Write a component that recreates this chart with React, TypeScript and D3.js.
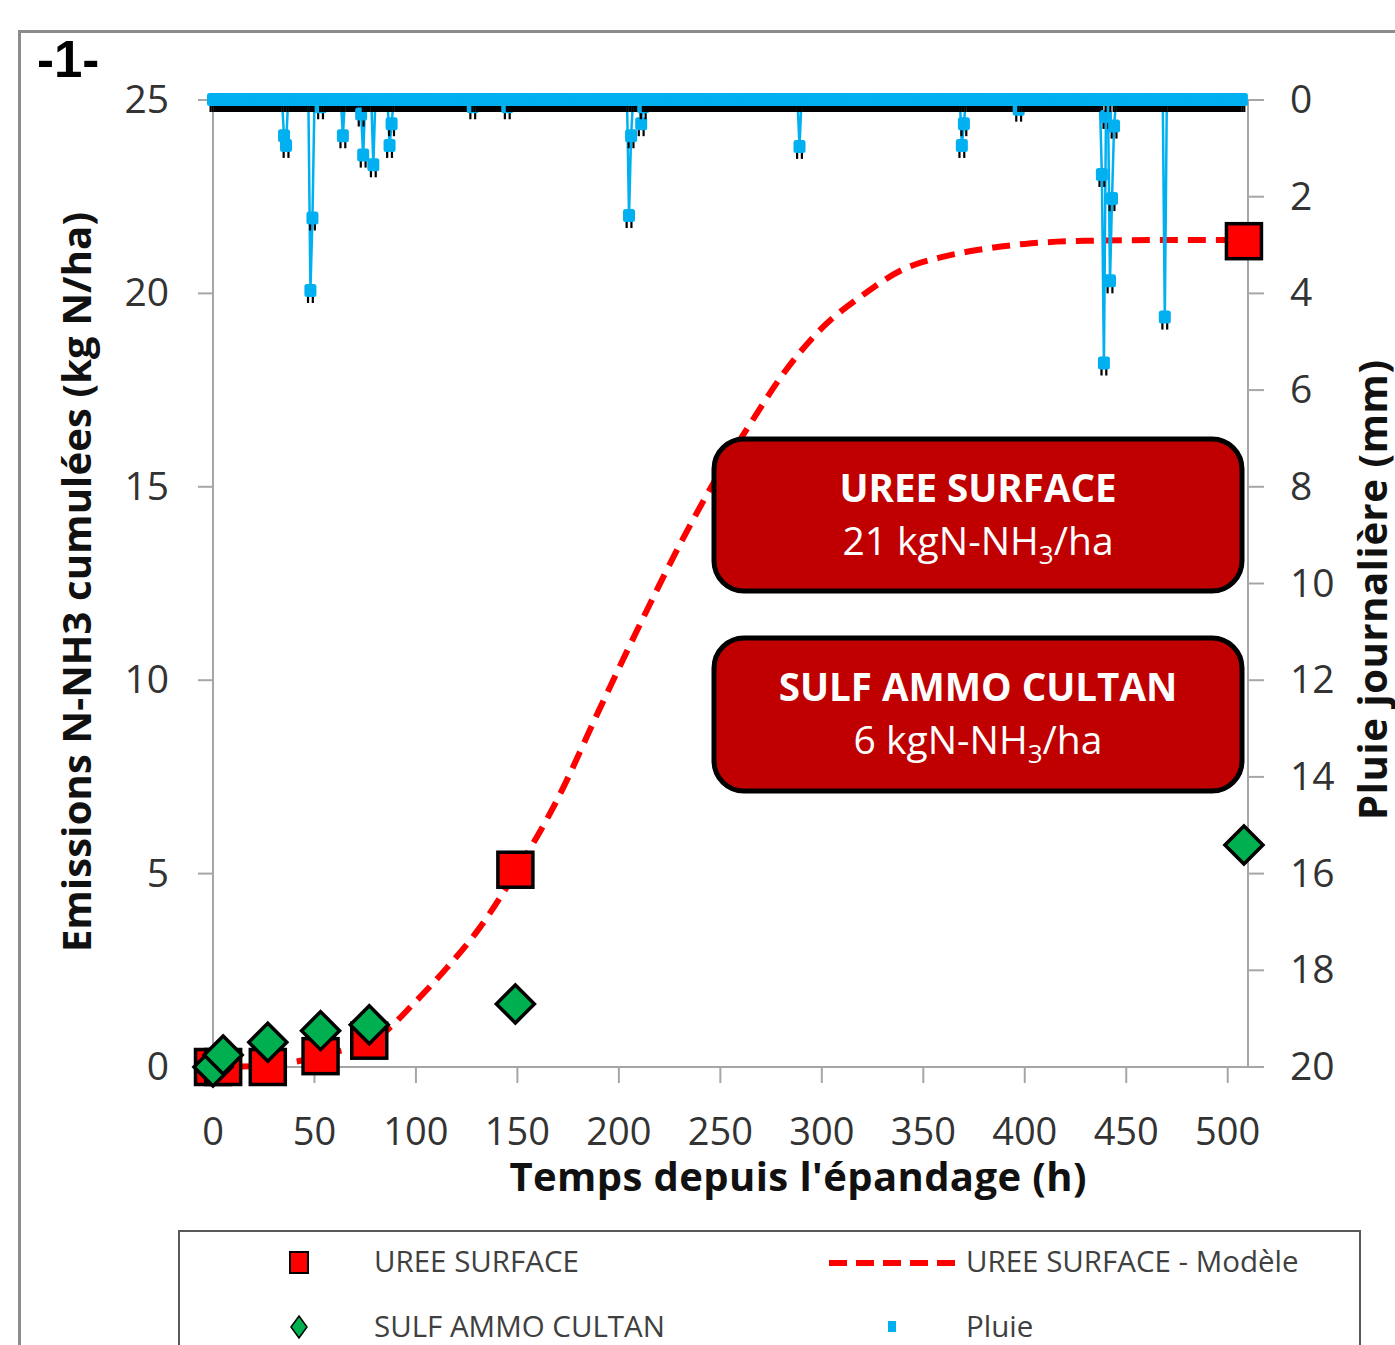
import React from "react";
import * as d3 from "d3";

// ---------- data ----------
const xTicks = [0, 50, 100, 150, 200, 250, 300, 350, 400, 450, 500];
const leftTicks = [0, 5, 10, 15, 20, 25];
const rightTicks = [0, 2, 4, 6, 8, 10, 12, 14, 16, 18, 20];

const ureeHours = [0, 5, 27, 53, 77, 149, 508];
const ureeValues = [0, 0, 0, 0.28, 0.68, 5.1, 21.35];

const sulfHours = [0, 5, 27, 53, 77, 149, 508];
const sulfValues = [0, 0.31, 0.64, 0.94, 1.09, 1.63, 5.74];

const modelHours = [0, 20, 40, 60, 80, 100, 115, 130, 150, 170, 190, 210, 230, 250, 265, 280, 300, 320, 340, 360, 380, 400, 430, 470, 508];
const modelValues = [0, 0.02, 0.13, 0.38, 0.72, 1.7, 2.55, 3.5, 5.1, 6.95, 9.2, 11.4, 13.5, 15.4, 16.65, 17.85, 19.1, 19.95, 20.62, 20.95, 21.15, 21.28, 21.36, 21.38, 21.38];

// hourly rain (mm); hours not listed had 0 mm
const rainLastHour = 507;
const rainEventHours = [35, 36, 48, 49, 53, 64, 73, 74, 79, 87, 88, 128, 145, 205, 206, 211, 212, 289, 369, 370, 397, 438, 439, 440, 442, 443, 444, 469];
const rainEventMm = [0.75, 0.95, 3.95, 2.45, 0.15, 0.75, 0.3, 1.15, 1.35, 0.95, 0.5, 0.15, 0.15, 2.4, 0.75, 0.5, 0.15, 0.97, 0.95, 0.5, 0.2, 1.55, 5.45, 0.35, 3.75, 2.05, 0.55, 4.5];

const legendItems = ["UREE SURFACE", "SULF AMMO CULTAN", "UREE SURFACE - Modèle", "Pluie"];

// ---------- layout ----------
const W = 1395;
const H = 1345;
const left = 213, right = 1248, top = 100, bottom = 1067;

const x = d3.scaleLinear().domain([0, 510]).range([left, right]);
const yL = d3.scaleLinear().domain([0, 25]).range([bottom, top]);
const yR = d3.scaleLinear().domain([0, 20]).range([top, bottom]);

const FONT = "'Open Sans', 'Noto Sans', sans-serif";
const BLUE = "#00B0F0";
const AXIS = "#A6A6A6";
const TXT = "#333333";

export default function App() {
  const rainMap = new Map<number, number>();
  rainEventHours.forEach((h, i) => rainMap.set(h, rainEventMm[i]));
  const rain = d3.range(0, rainLastHour + 1).map((h) => ({ h, v: rainMap.get(h) ?? 0 }));

  const modelPts = modelHours.map((h, i) => [h, modelValues[i]] as [number, number]);
  const modelPath = d3
    .line<[number, number]>()
    .x((d) => x(d[0]))
    .y((d) => yL(d[1]))
    .curve(d3.curveMonotoneX)(modelPts) as string;

  const rainPath = d3
    .line<{ h: number; v: number }>()
    .x((d) => x(d.h))
    .y((d) => yR(d.v))(rain) as string;

  const sq = 35;
  const dm = 19;

  const boxes = [
    { y0: 439, y1: 591, title: "UREE SURFACE", val: "21" },
    { y0: 638, y1: 791, title: "SULF AMMO CULTAN", val: "6" },
  ];
  const bx0 = 714, bx1 = 1242;
  const bcx = (bx0 + bx1) / 2;

  return (
    <svg width={W} height={H} style={{ position: "absolute", left: 0, top: 0, background: "#fff" }}>
      {/* outer frame */}
      <rect x={19.5} y={31.5} width={1450} height={1400} fill="none" stroke="#8C8C8C" strokeWidth={3} />
      <text x={37} y={77} fontFamily="'Liberation Sans', Arial, sans-serif" fontWeight="bold" fontSize={51} fill="#000">
        -1-
      </text>

      {/* axes */}
      <line x1={left} x2={left} y1={top} y2={bottom} stroke={AXIS} strokeWidth={2} />
      <line x1={right} x2={right} y1={top} y2={bottom} stroke={AXIS} strokeWidth={2} />
      <line x1={left} x2={right} y1={bottom} y2={bottom} stroke={AXIS} strokeWidth={2} />
      {leftTicks.map((t) => (
        <g key={"l" + t}>
          <line x1={left - 15} x2={left} y1={yL(t)} y2={yL(t)} stroke={AXIS} strokeWidth={2} />
          <text x={169} y={yL(t) + 13} textAnchor="end" fontFamily={FONT} fontSize={39} fill={TXT}>
            {t}
          </text>
        </g>
      ))}
      {rightTicks.map((t) => (
        <g key={"r" + t}>
          <line x1={right} x2={right + 16} y1={yR(t)} y2={yR(t)} stroke={AXIS} strokeWidth={2} />
          <text x={1290} y={yR(t) + 13} textAnchor="start" fontFamily={FONT} fontSize={39} fill={TXT}>
            {t}
          </text>
        </g>
      ))}
      {xTicks.map((t) => (
        <g key={"x" + t}>
          <line x1={x(t)} x2={x(t)} y1={bottom} y2={bottom + 16} stroke={AXIS} strokeWidth={2} />
          <text x={x(t)} y={1145} textAnchor="middle" fontFamily={FONT} fontSize={38} fill={TXT}>
            {t}
          </text>
        </g>
      ))}

      {/* axis titles */}
      <text x={798} y={1191} textAnchor="middle" fontFamily={FONT} fontWeight="bold" fontSize={40} fill="#111" textLength={577}>
        Temps depuis l'épandage (h)
      </text>
      <text
        transform={`translate(91,582) rotate(-90)`}
        textAnchor="middle"
        fontFamily={FONT}
        fontWeight="bold"
        fontSize={40}
        fill="#111"
        textLength={740}
      >
        Emissions N-NH3 cumulées (kg N/ha)
      </text>
      <text
        transform={`translate(1387,590) rotate(-90)`}
        textAnchor="middle"
        fontFamily={FONT}
        fontWeight="bold"
        fontSize={40}
        fill="#111"
        textLength={460}
      >
        Pluie journalière (mm)
      </text>

      {/* model curve */}
      <path d={modelPath} fill="none" stroke="#FF0000" strokeWidth={6} strokeDasharray="18 10" />

      {/* UREE squares */}
      {ureeHours.map((h, i) => (
        <rect
          key={"u" + i}
          x={x(h) - sq / 2}
          y={yL(ureeValues[i]) - sq / 2}
          width={sq}
          height={sq}
          fill="#FF0000"
          stroke="#000"
          strokeWidth={3.5}
        />
      ))}
      {/* SULF diamonds */}
      {sulfHours.map((h, i) => {
        const cx = x(h), cy = yL(sulfValues[i]);
        return (
          <path
            key={"s" + i}
            d={`M${cx},${cy - dm}L${cx + dm},${cy}L${cx},${cy + dm}L${cx - dm},${cy}Z`}
            fill="#00B050"
            stroke="#000"
            strokeWidth={3.5}
            strokeLinejoin="miter"
          />
        );
      })}

      {/* rain */}
      <path d={rainPath} fill="none" stroke={BLUE} strokeWidth={2.5} />
      {rain.map((d) => {
        const cx = x(d.h), cy = yR(d.v);
        return (
          <g key={"p" + d.h}>
            <rect x={cx - 3.5} y={cy + 5} width={2.2} height={7} fill="#000" />
            <rect x={cx + 1.3} y={cy + 5} width={2.2} height={7} fill="#000" />
            <rect x={cx - 6} y={cy - 7} width={12} height={13} rx={2.5} fill={BLUE} />
          </g>
        );
      })}

      {/* annotation boxes */}
      {boxes.map((b, i) => (
        <g key={"b" + i}>
          <rect
            x={bx0}
            y={b.y0}
            width={bx1 - bx0}
            height={b.y1 - b.y0}
            rx={30}
            ry={30}
            fill="#C00000"
            stroke="#000"
            strokeWidth={5}
          />
          <text x={bcx} y={b.y0 + 63} textAnchor="middle" fontFamily={FONT} fontWeight="bold" fontSize={38.5} fill="#fff">
            {b.title}
          </text>
          <text x={bcx} y={b.y0 + 116} textAnchor="middle" fontFamily={FONT} fontSize={39} fill="#fff">
            {b.val + " kgN-NH"}
            <tspan fontSize={26} dy={9}>3</tspan>
            <tspan dy={-9}>/ha</tspan>
          </text>
        </g>
      ))}

      {/* legend */}
      <rect x={179} y={1231} width={1181} height={200} fill="#fff" stroke="#595959" strokeWidth={2} />
      <rect x={290} y={1252} width={18} height={21} fill="#FF0000" stroke="#000" strokeWidth={2} />
      <text x={374} y={1272} fontFamily={FONT} fontSize={29.5} fill="#404040">
        {legendItems[0]}
      </text>
      <path d="M299,1316L307,1327L299,1338L291,1327Z" fill="#00B050" stroke="#000" strokeWidth={1.5} />
      <text x={374} y={1337} fontFamily={FONT} fontSize={29.5} fill="#404040">
        {legendItems[1]}
      </text>
      <line x1={829} x2={956} y1={1263} y2={1263} stroke="#FF0000" strokeWidth={6} strokeDasharray="18 9" />
      <text x={966} y={1272} fontFamily={FONT} fontSize={29.5} fill="#404040">
        {legendItems[2]}
      </text>
      <rect x={888} y={1321} width={8} height={11} fill={BLUE} />
      <text x={966} y={1337} fontFamily={FONT} fontSize={29.5} fill="#404040">
        {legendItems[3]}
      </text>
    </svg>
  );
}
